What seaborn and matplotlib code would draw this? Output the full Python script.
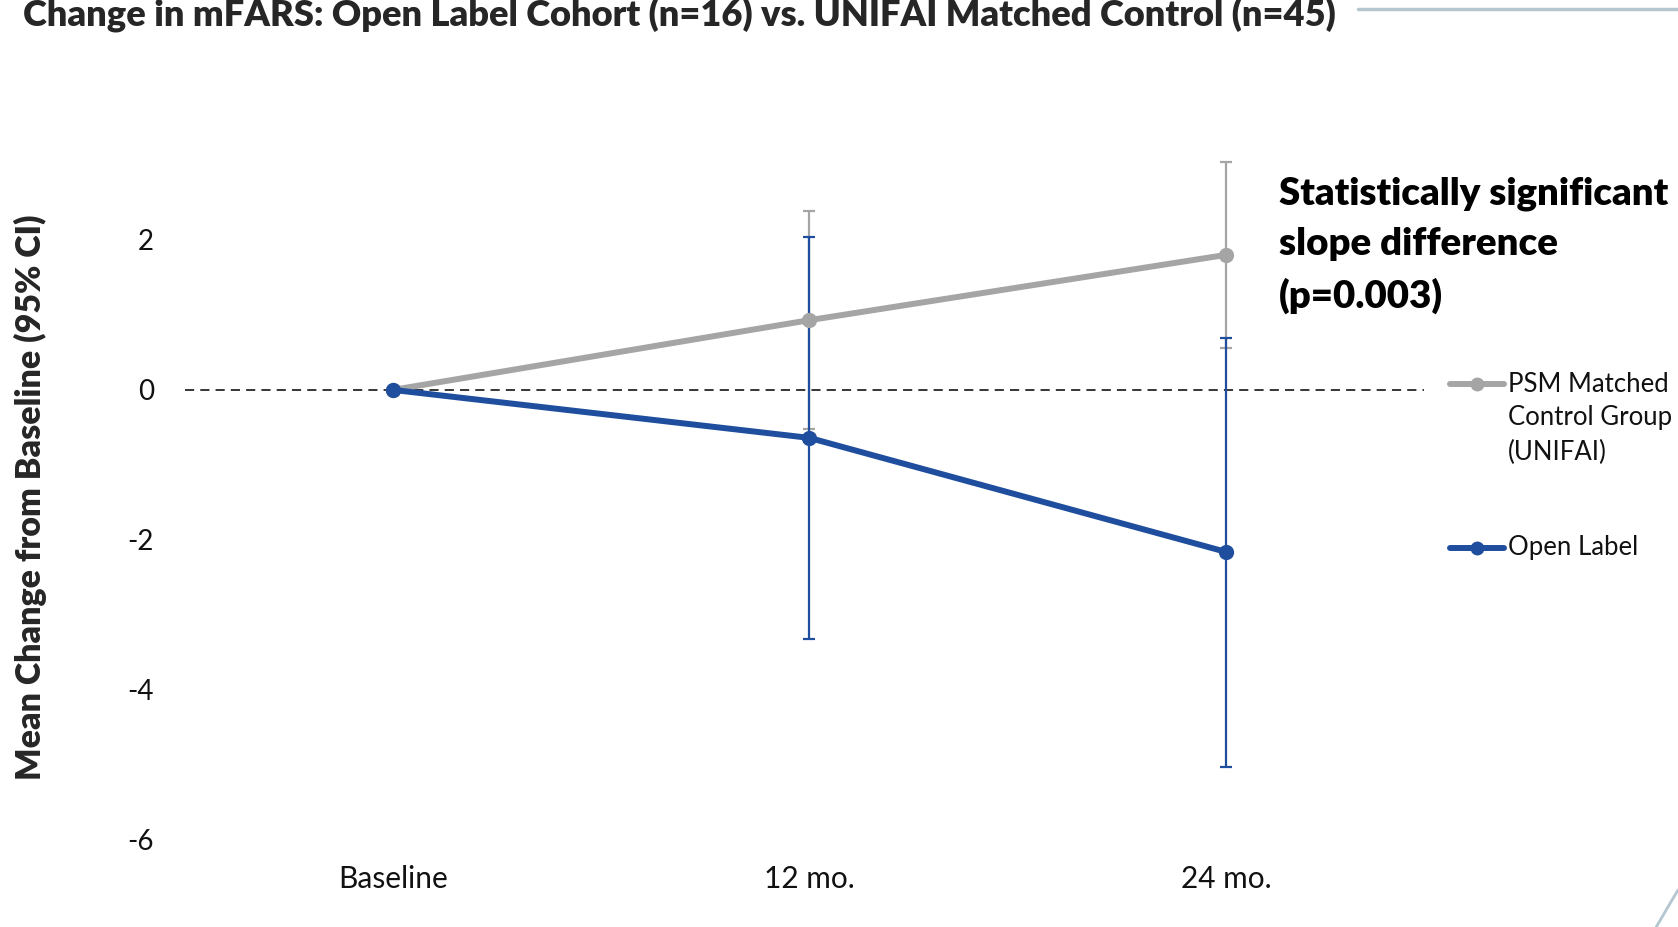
import numpy as np
import pandas as pd
import matplotlib.pyplot as plt
import seaborn as sns
from matplotlib.lines import Line2D

# data
timepoints = ["Baseline", "12 mo.", "24 mo."]
control_mean = [0.0, 0.93, 1.80]
control_low = [0.0, -0.52, 0.56]
control_high = [0.0, 2.39, 3.04]
open_mean = [0.0, -0.64, -2.16]
open_low = [0.0, -3.32, -5.03]
open_high = [0.0, 2.04, 0.69]

control_name = "PSM Matched\nControl Group\n(UNIFAI)"
open_name = "Open Label"

GRAY = "#A5A5A5"
BLUE = "#1F4E9E"

sns.set_theme(style="white")
plt.rcParams["font.family"] = ["Lato", "DejaVu Sans"]

df = pd.DataFrame({
    "x": list(range(3)) * 2,
    "mean": control_mean + open_mean,
    "group": [control_name] * 3 + [open_name] * 3,
})

fig = plt.figure(figsize=(16.78, 9.27), dpi=100)
ax = fig.add_axes([0.110, 0.094, 0.7385, 0.809])

# zero reference line
ax.axhline(0, color="black", lw=1.1, ls=(0, (6, 4)), zorder=1)

# confidence intervals
xs = np.arange(3)
for mean, lo, hi, col in [(control_mean, control_low, control_high, GRAY),
                          (open_mean, open_low, open_high, BLUE)]:
    m = np.array(mean)
    err = np.vstack([m - np.array(lo), np.array(hi) - m])
    ax.errorbar(xs[1:], m[1:], yerr=err[:, 1:], fmt="none", ecolor=col,
                elinewidth=1.6, capsize=4.5, capthick=1.6, zorder=2)

sns.lineplot(data=df, x="x", y="mean", hue="group",
             palette={control_name: GRAY, open_name: BLUE},
             marker="o", markersize=11, markeredgewidth=0, lw=4.3,
             ax=ax, legend=False, zorder=3)

ax.set_xlim(-0.5, 2.475)
ax.set_ylim(-6, 4)
ax.set_yticks([-6, -4, -2, 0, 2])
ax.set_yticklabels(["-6", "-4", "-2", "0", "2"])
ax.set_xticks(xs)
ax.set_xticklabels(timepoints)
ax.tick_params(axis="both", length=0, colors="#111111")
ax.tick_params(axis="y", pad=22, labelsize=20)
ax.tick_params(axis="x", pad=18, labelsize=21.5)
for s in ax.spines.values():
    s.set_visible(False)
ax.set_xlabel("")
ax.set_ylabel("Mean Change from Baseline (95% CI)", fontsize=24.5,
              fontweight="heavy")
ax.yaxis.set_label_coords(-0.111, 0.457)

# legend, drawn by hand so the marker sits on the first text line
fs_leg = 18.5
leg_items = [(GRAY, 384, control_name.split("\n")),
             (BLUE, 548, [open_name])]
H = 927.0
for col, ypix, lines in leg_items:
    y = 1 - ypix / H
    fig.add_artist(Line2D([1450 / 1678, 1504 / 1678], [y, y], color=col, lw=4.3,
                          solid_capstyle="round"))
    fig.add_artist(Line2D([1477 / 1678], [y], color=col, marker="o",
                          markersize=10, markeredgewidth=0, lw=0))
    for i, line in enumerate(lines):
        fig.text(1508 / 1678, 1 - (ypix + i * 34) / H, line, fontsize=fs_leg,
                 va="center", ha="left", color="#111111")

# annotation
fig.text(0.762, 0.735, "Statistically significant\nslope difference\n(p=0.003)",
         fontsize=27.6, fontweight="heavy", va="center", ha="left",
         linespacing=1.56, color="black")

# title, partly cut off at the top edge
fig.text(0.014, 0.971, "Change in mFARS: Open Label Cohort (n=16) vs. UNIFAI Matched Control (n=45)",
         fontsize=26.1, fontweight="heavy", va="baseline", ha="left")

# decorative lines
fig.add_artist(Line2D([0.809, 1.0], [0.9905, 0.9905], color="#B4C6D0", lw=2.5))
fig.add_artist(Line2D([0.987, 1.0], [0.0, 0.04], color="#B4C6D0", lw=2.0))

fig.savefig("out.png", dpi=100)
